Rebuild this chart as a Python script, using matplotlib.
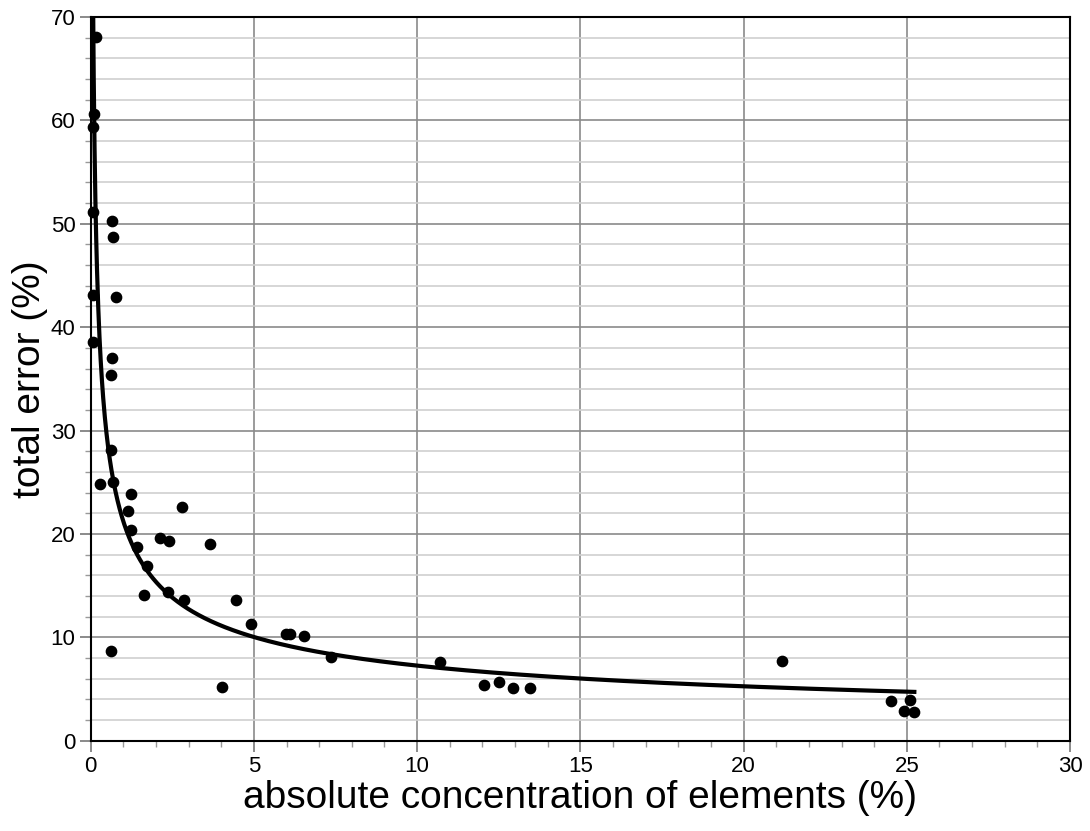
import numpy as np
import matplotlib
matplotlib.use("Agg")
import matplotlib.pyplot as plt
from matplotlib.ticker import MultipleLocator

plt.rcParams['font.family'] = ['Liberation Sans', 'DejaVu Sans']

# measured points: concentration (%) vs total error (%)
conc = [0.16, 0.10, 0.08, 0.08, 0.66, 0.69, 0.77, 0.08, 0.08, 0.64, 0.62,
        0.61, 0.28, 0.69, 1.23, 1.15, 1.25, 1.43, 1.71, 1.63, 2.80, 2.12,
        2.40, 2.38, 2.86, 3.65, 4.44, 4.90, 5.97, 6.10, 6.54, 7.35, 4.01,
        0.62, 10.69, 12.05, 12.51, 12.94, 13.45, 21.17, 24.50, 25.11,
        24.90, 25.23]
err = [68.1, 60.6, 59.4, 51.1, 50.3, 48.7, 42.9, 43.1, 38.6, 37.0, 35.4,
       28.1, 24.8, 25.0, 23.9, 22.2, 20.4, 18.7, 16.9, 14.1, 22.65, 19.65,
       19.3, 14.4, 13.6, 19.0, 13.6, 11.27, 10.3, 10.3, 10.16, 8.07, 5.23,
       8.68, 7.65, 5.39, 5.71, 5.07, 5.07, 7.75, 3.84, 3.94, 2.87, 2.81]

conc = np.array(conc)
err = np.array(err)

# power-law trend line fitted to the points
b, loga = np.polyfit(np.log(conc), np.log(err), 1)
xfit = np.linspace(0.03, conc.max(), 2000)
yfit = np.exp(loga) * xfit**b

fig = plt.figure(figsize=(10.9, 8.31), dpi=100)
ax = fig.add_axes([0.0832, 0.1087, 0.8985, 0.8708])

ax.plot(xfit, yfit, color='black', lw=3.0, zorder=3, clip_on=True)
ax.scatter(conc, err, s=55, color='black', zorder=4, clip_on=False)

ax.set_xlim(0, 30)
ax.set_ylim(0, 70)
ax.xaxis.set_major_locator(MultipleLocator(5))
ax.xaxis.set_minor_locator(MultipleLocator(1))
ax.yaxis.set_major_locator(MultipleLocator(10))
ax.yaxis.set_minor_locator(MultipleLocator(2))

ax.grid(which='major', axis='both', color='#8a8a8a', lw=1.2, zorder=0)
ax.grid(which='minor', axis='y', color='#cfcfcf', lw=1.2, zorder=0)
ax.set_axisbelow(True)

for s in ax.spines.values():
    s.set_color('black')
    s.set_linewidth(1.5)

ax.tick_params(which='major', direction='out', length=8, width=1.2,
               color='#777777', labelsize=16, pad=3)
ax.tick_params(which='minor', direction='out', length=4, width=1,
               color='#999999')

ax.set_xlabel('absolute concentration of elements (%)', fontsize=28, labelpad=2)
ax.set_ylabel('total error (%)', fontsize=28, labelpad=2)

fig.savefig('out.png', dpi=100)
